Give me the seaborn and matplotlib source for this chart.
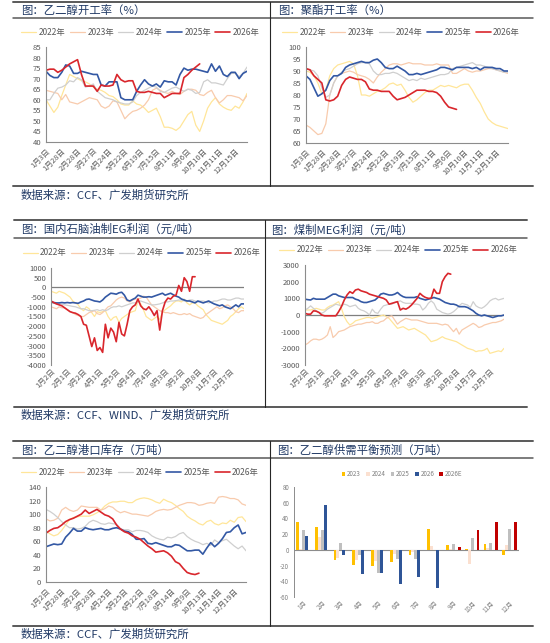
import numpy as np
import pandas as pd
import seaborn as sns
import matplotlib.pyplot as plt
from matplotlib.lines import Line2D

# ---- 乙二醇开工率 (%), weekly
eg_labels = ["1月3日", "1月28日", "2月28日", "3月27日", "4月24日", "5月22日", "6月19日",
             "7月15日", "8月11日", "9月6日", "10月10日", "11月11日", "12月15日"]
eg_2022 = [60, 57, 54, 56.5, 62, 67, 72, 71, 70, 69, 68.5, 67.5, 66, 65, 64.5, 63.5, 62, 61.5, 60, 58,
           57.5, 57.5, 59.5, 58, 57.5, 56, 54, 55, 56, 52, 47, 47, 46.5, 45.5, 47, 50, 53, 54.5, 48, 45,
           50, 56, 59, 61, 58, 56.5, 55.5, 55, 57, 56, 59, 63]
eg_2023 = [64.5, 64, 63.5, 63, 60, 62.5, 59, 58.5, 58, 59, 60, 61, 60.5, 60, 57, 56, 57, 59.5, 59, 55,
           51, 53, 54.5, 55, 56, 57.5, 60, 64.5, 65.5, 64.5, 63.5, 63, 64, 63, 62.5, 64, 65, 65, 64.5, 62.5,
           62, 63.5, 64.5, 61, 58.5, 60, 62, 62, 61.5, 61, 59.5, 62]
eg_2024 = [60, 60, 63, 65.5, 66, 67, 69, 68.5, 70.5, 69.5, 66, 66.5, 67.5, 64, 62.5, 61, 60.5, 60, 59, 58.5,
           58, 58, 59, 62, 63.5, 64.5, 65.5, 66.5, 66, 64, 63.5, 64.5, 65.5, 66, 65, 64, 65, 64.5, 63, 63.5,
           68.5, 69.5, 68, 68, 67.5, 67, 70, 72.5, 72.5, 71, 72.5, 75.5]
eg_2025 = [73.5, 71.5, 70.5, 70.5, 73, 76.5, 76, 72.5, 72.5, 73.5, 73, 72.5, 72, 72, 67, 66.5, 68.5, 68.5, 68.5, 61,
           60, 60, 60, 64, 67, 69.5, 67.5, 66.5, 67.5, 66, 69, 68.5, 68.5, 67, 72, 75, 74, 74.5, 74.5, 74,
           73.5, 73, 77, 73.5, 76, 72, 71, 73, 73, 70, 72.5, 73.5]
eg_2026 = [74, 74.5, 74.5, 73, 74, 75.5, 77, 78, 79, 72, 66.5, 66.5, 66.5, 64, 67, 66.5, 66.5, 67, 72, 69.5,
           68.5, 69, 69, 64, 63.5, 63.5, 64, 63.5, 63, 63, 61, 62, 63, 63, 63, 70.5, 72, 74, 75.5, 77]

# ---- 聚酯开工率 (%), weekly
pe_2022 = [90, 89.5, 88, 85, 80.5, 82, 88, 91, 92.5, 93, 93.5, 94, 93, 88, 80, 80, 79.5, 80.5, 81.5, 82,
           83, 84.5, 85, 84, 84.5, 82, 79, 77, 78, 79.5, 81, 82, 82, 83, 84, 83.5, 84, 83.5, 83, 84,
           84.5, 84.5, 82, 79, 76.5, 73, 70, 68.5, 67.5, 67, 66.5, 66]
pe_2023 = [67.5, 66.5, 65, 63.5, 64, 68, 80, 85, 88, 89, 89.5, 90, 89.5, 88.5, 88, 87.5, 86.5, 85, 87.5, 89.5,
           91, 92.5, 93, 93, 92.5, 93, 93.5, 93, 93, 93, 92.5, 92.5, 92.5, 93, 92.5, 92.5, 92.5, 89, 89, 90,
           91, 90, 89.5, 90, 90, 90.5, 91, 91, 90.5, 90, 89.5, 89]
pe_2024 = [91, 90.5, 90, 88, 83, 79, 80, 85, 88, 89.5, 90.5, 91, 92, 93, 93.5, 93.5, 93, 90, 88.5, 88.5,
           89, 89, 89.5, 89, 88, 87, 86, 86.5, 86, 87, 86.5, 87, 87.5, 88, 88.5, 88.5, 89, 91, 91.5, 92,
           92.5, 93, 93.5, 92.5, 92.5, 92, 91.5, 91, 90.5, 90, 89.5, 89.5]
pe_2025 = [88, 86.5, 83, 79.5, 80.5, 82, 86, 88, 88, 89, 91.5, 92.5, 93, 93.5, 94, 93.5, 93.5, 94.5, 95, 93.5,
           91.5, 91, 91, 92, 91, 90, 88.5, 88.5, 89, 88.5, 89, 89.5, 90, 90.5, 91.5, 91.5, 91, 90.5, 91.5, 91.5,
           91.5, 91.5, 91, 91.5, 90.5, 91.5, 91.5, 91.5, 91, 91, 90, 90]
pe_2026 = [91, 90.5, 88, 86.5, 85, 78, 77.5, 78, 79.5, 84, 86.5, 87.5, 87, 86.5, 86.5, 85.5, 82.5, 82, 82, 81.5,
           81.5, 81.5, 79.5, 78, 78.5, 79, 80, 81, 82, 82, 82, 81.5, 81.5, 81, 79.5, 77, 75, 74.5, 74]

# ---- 国内石脑油制EG利润 (元/吨)
np_labels = ["1月2日", "2月1日", "3月2日", "4月1日", "5月5日", "6月4日",
             "7月4日", "8月3日", "9月2日", "10月8日", "11月7日", "12月7日"]
np_2022 = [-200, -250, -300, -200, -250, -300, -400, -500, -700, -800, -900, -1100, -1200, -1000, -1100, -1300,
           -1500, -1250, -1300, -1250, -1200, -1500, -1700, -1550, -1500, -1800, -1600, -1500, -1400, -1300,
           -1250, -1200, -700, -850, -1150, -1500, -1600, -1700, -1600, -1500, -1650, -1300, -1150, -1050,
           -950, -800, -700, -700, -750, -600, -800, -900, -800, -800, -950, -1050, -1150, -1400, -1550,
           -1700, -1750, -1800, -1850, -1900, -1800, -1700, -1500, -1400, -1250, -1100, -1000, -1100]
np_2023 = [-1000, -1050, -1100, -1000, -1050, -1050, -1150, -1250, -1300, -1400, -1450, -1500, -1500, -1400,
           -1300, -1250, -1200, -1350, -1400, -1300, -1150, -1000, -950, -800, -650, -550, -500, -550, -700,
           -750, -650, -600, -600, -550, -450, -500, -700, -900, -1000, -1100, -1200, -1250, -1300, -1300,
           -1350, -1300, -1350, -1400, -1400, -1350, -1400, -1350, -1450, -1500, -1550, -1600, -1550, -1400,
           -1300, -1200, -1100, -1000, -1100, -1050, -950, -900, -1000, -1100, -1250, -1300, -1200, -1200]
np_2024 = [-800, -820, -850, -850, -880, -900, -920, -950, -980, -1000, -1050, -1100, -1100, -1150, -1200,
           -1200, -1180, -1150, -1200, -1150, -1200, -1150, -1050, -1000, -1000, -950, -1000, -950, -900,
           -850, -800, -800, -750, -700, -750, -800, -850, -900, -900, -880, -850, -800, -750, -750, -700,
           -700, -680, -650, -650, -700, -700, -650, -650, -700, -750, -700, -700, -750, -800, -750, -700,
           -700, -650, -600, -600, -650, -650, -600, -550, -550, -600, -600]
np_2025 = [-750, -780, -800, -800, -780, -800, -780, -800, -780, -800, -820, -750, -700, -620, -600, -650,
           -700, -720, -750, -650, -500, -400, -300, -320, -350, -280, -250, -400, -650, -700, -620, -550,
           -400, -450, -500, -500, -480, -500, -450, -400, -350, -300, -400, -350, -300, -380, -450, -500,
           -600, -650, -700, -700, -750, -800, -700, -750, -800, -750, -700, -780, -850, -900, -950, -900,
           -1000, -1050, -1100, -1000, -900, -1000, -850, -850]
np_2026 = [-700, -780, -850, -900, -950, -1050, -1150, -1250, -1300, -1330, -1400, -1500, -1900, -1950,
           -2500, -3050, -2600, -3250, -3100, -3350, -1900, -2600, -2100, -2300, -2800, -1800, -2400, -2500,
           -1900, -1200, -1000, -900, -600, -950, -1100, -1150, -1000, -1200, -1450, -1200, -2200, -1200,
           -750, -550, -600, -450, -400, 100, -200, 500, 300, -200, 550, 550]

# ---- 煤制MEG利润 (元/吨)
cm_2022 = [300, 300, 300, 350, 400, 350, 300, 300, 450, 550, 600, 700, 800, 400, -100, -400, -600, -500,
           -350, -300, -250, -200, -150, -150, -200, -150, -100, -50, 0, -100, -200, -400, -600, -800, -750,
           -700, -800, -900, -850, -800, -900, -1000, -1100, -1200, -1400, -1600, -1550, -1500, -1400, -1300,
           -1400, -1450, -1500, -1550, -1600, -1700, -1800, -1900, -2000, -2050, -2100, -2200, -2150, -2150,
           -2100, -2000, -2300, -2250, -2200, -2150, -2200, -2000]
cm_2023 = [-1800, -1700, -1550, -1450, -1450, -1500, -1450, -1350, -1200, -700, -1350, -1200, -1000, -950,
           -900, -800, -700, -650, -600, -550, -550, -500, -450, -450, -400, -500, -500, -400, -350, -200,
           -100, -50, -300, -550, -400, -300, -200, -250, -300, -300, -300, -350, -400, -450, -500, -500,
           -500, -500, -550, -600, -550, -600, -800, -1000, -800, -1150, -900, -800, -700, -600, -500, -600,
           -750, -700, -600, -550, -500, -450, -450, -400, -350, -250]
cm_2024 = [300, 400, 550, 400, 250, 150, 100, 200, 350, 450, 550, 650, 600, 550, 650, 600, 500, 550, 600,
           400, 300, 250, 150, 0, 350, 150, 100, 350, 550, 600, 650, 650, 750, 800, 850, 750, 700, 700, 700,
           650, 650, 600, 300, 450, 700, 850, 700, 350, 250, 150, 100, 50, 100, 200, 350, 550, 700, 650, 600,
           450, 800, 550, 450, 400, 500, 650, 850, 950, 1000, 900, 950, 1000]
cm_2025 = [950, 920, 900, 1000, 950, 950, 950, 950, 1050, 1150, 1250, 1250, 1150, 1100, 1050, 1050, 1050,
           1050, 950, 900, 800, 750, 750, 800, 850, 900, 1050, 1250, 1300, 1250, 1200, 1200, 1250, 1350, 1200,
           1100, 1050, 1050, 1050, 1050, 1100, 1000, 950, 900, 950, 1000, 1050, 1000, 950, 850, 750, 700, 650,
           650, 600, 500, 500, 500, 450, 350, 250, 100, 0, -50, 0, -50, -100, -150, -100, -50, -50, 0]
cm_2026 = [100, 50, 50, 250, 230, 150, 0, -50, -50, -50, -50, -50, 200, 500, 900, 1200, 1400, 1300, 1500,
           1550, 1450, 1400, 1350, 1250, 1200, 1150, 1100, 1050, 1000, 900, 650, 700, 750, 800, 300, 400, 350,
           450, 600, 800, 1000, 1300, 1150, 1050, 1000, 1000, 1550, 1300, 1300, 2000, 2300, 2500, 2450]

# ---- 乙二醇港口库存 (万吨), weekly
inv_labels = ["1月2日", "1月28日", "3月2日", "3月28日", "4月25日", "5月25日", "6月22日",
              "7月18日", "8月14日", "9月9日", "10月13日", "11月14日", "12月19日"]
inv_2022 = [75, 71, 68, 70, 76, 84, 92, 95, 96, 97, 97, 97, 99, 102, 106, 112, 116, 118, 118, 119,
            119, 117, 117, 121, 123, 124, 123, 121, 118, 116, 122, 119, 117, 113, 108, 104, 97, 93, 90, 86,
            84, 89, 91, 86, 84, 87, 86, 91, 88, 95, 96, 89]
inv_2023 = [93, 90, 91, 94, 106, 110, 106, 104, 106, 112, 111, 110, 110, 110, 106, 108, 112, 110, 105, 102,
            104, 102, 100, 100, 99, 98, 97, 100, 104, 106, 107, 106, 107, 110, 113, 115, 117, 117, 116, 113,
            114, 116, 117, 116, 125, 126, 125, 123, 123, 121, 115, 113]
inv_2024 = [107, 104, 100, 95, 89, 84, 80, 80, 78, 79, 82, 88, 91, 89, 86, 85, 87, 86, 85, 78,
            77, 77, 74, 76, 76, 75, 73, 68, 65, 63, 62, 66, 65, 67, 71, 73, 67, 63, 60, 58,
            55, 57, 54, 62, 58, 61, 63, 58, 53, 49, 53, 46]
inv_2025 = [52, 54, 56, 55, 56, 66, 72, 79, 75, 75, 80, 78, 77, 78, 79, 77, 77, 79, 80, 78,
            75, 74, 70, 63, 63, 64, 57, 56, 58, 56, 54, 52, 52, 55, 54, 50, 46, 46, 47, 47,
            41, 50, 58, 52, 57, 64, 73, 74, 80, 84, 71, 73]
inv_2026 = [72, 76, 79, 80, 84, 89, 92, 94, 97, 100, 106, 101, 104, 107, 103, 99, 97, 93, 84, 78,
            74, 72, 68, 66, 63, 58, 53, 49, 44, 45, 46, 43, 38, 30, 27, 20, 14, 12, 11, 13]

# ---- 乙二醇供需平衡预测 (万吨)
months = ["1月", "2月", "3月", "4月", "5月", "6月", "7月", "8月", "9月", "10月", "11月", "12月"]
bal_2023 = [36, 28.5, -13.5, -19, -20.5, -15, -7, 26.5, 6, 1, 7.5, -6]
bal_2024 = [0.5, 16, -10, -13.5, -14, -5, -3, 5, 1, -18, 2, 6.5]
bal_2025 = [25, 25, 8.5, -6, -29.5, -12, -11, 0, 7, 15, 8.5, 26]
bal_2026 = [18, 57, -7, -31, -30, -44, -35, -48, np.nan, np.nan, np.nan, np.nan]
bal_2026e = [np.nan] * 8 + [4, 25, 35, 35]

years = ["2022年", "2023年", "2024年", "2025年", "2026年"]
line_colors = ["#FFE699", "#F8CBAD", "#CFCFCF", "#3358A4", "#D9262C"]
line_widths = [0.9, 0.9, 0.9, 1.2, 1.2]
bar_names = ["2023", "2024", "2025", "2026", "2026E"]
bar_colors = ["#FFC000", "#FBE0D0", "#BFBFBF", "#2F5597", "#C00000"]

NAVY = "#1F3864"
GREY = "#595959"
W, H = 550, 643

sns.set_style("white")
plt.rcParams["font.family"] = ["Noto Sans CJK SC", "DejaVu Sans"]
plt.rcParams["axes.unicode_minus"] = False

fig = plt.figure(figsize=(W / 100, H / 100), dpi=100)


def add_ax(x0, y0, x1, y1):
    return fig.add_axes([x0 / W, 1 - y1 / H, (x1 - x0) / W, (y1 - y0) / H])


def hline(x0, x1, y, lw):
    fig.add_artist(Line2D([x0 / W, x1 / W], [1 - y / H] * 2, color=GREY, lw=lw))


def vline(x, y0, y1):
    fig.add_artist(Line2D([x / W] * 2, [1 - y0 / H, 1 - y1 / H], color="#262626", lw=0.8))


def row_frame(x0, xm, x1, top, under, bottom):
    hline(x0, x1, top, 1.4)
    hline(x0, x1, under, 1.1)
    hline(x0, x1, bottom, 1.4)
    vline(xm, top, bottom)


def label(x, y, s):
    fig.text(x / W, 1 - y / H, s, color=NAVY, fontsize=8.2, va="center", ha="left")


def line_panel(ax, series, tick_labels, step, yticks, zero=False, leg_y=0.16):
    n = max(len(v) for v in series)
    for vals, name, c, lw in zip(series, years, line_colors, line_widths):
        sns.lineplot(x=np.arange(len(vals)), y=vals, ax=ax, color=c, lw=lw, label=name)
    ax.set_xlim(0, n - 1)
    ax.set_ylim(yticks[0], yticks[-1])
    ax.set_yticks(yticks)
    ax.set_xticks(np.arange(0, step * len(tick_labels), step))
    ax.set_xticklabels(tick_labels, rotation=45, ha="right", rotation_mode="anchor")
    ax.tick_params(axis="both", labelsize=5.5, labelcolor=GREY, length=2, width=0.6,
                   color="#8C8C8C", pad=1.5)
    for s in ["top", "right"]:
        ax.spines[s].set_visible(False)
    ax.spines["left"].set_color("#8C8C8C")
    ax.spines["left"].set_linewidth(0.8)
    if zero:
        ax.spines["bottom"].set_visible(False)
        ax.axhline(0, color="#7F7F7F", lw=0.9, zorder=1)
        ax.tick_params(axis="x", length=0)
    else:
        ax.spines["bottom"].set_color("#8C8C8C")
        ax.spines["bottom"].set_linewidth(0.8)
    ax.set_xlabel("")
    ax.set_ylabel("")
    ax.legend(loc="center", bbox_to_anchor=(0.47, 1 + leg_y), ncol=5, frameon=False, fontsize=6,
              handlelength=1.8, handletextpad=0.3, columnspacing=0.5, labelcolor=GREY,
              borderaxespad=0)


# ---- frames and texts
row_frame(13, 270, 533, 2, 18, 186)
row_frame(14, 265, 527, 220, 238, 407)
row_frame(13, 270, 533, 441, 458, 626)

label(21, 11, "图：乙二醇开工率（%）")
label(278, 10, "图：聚酯开工率（%）")
label(21, 229, "图：国内石脑油制EG利润（元/吨）")
label(271, 230, "图：煤制MEG利润（元/吨）")
label(21, 450, "图：乙二醇港口库存（万吨）")
label(277, 450, "图：乙二醇供需平衡预测（万吨）")
label(21, 195, "数据来源：CCF、广发期货研究所")
label(21, 415, "数据来源：CCF、WIND、广发期货研究所")
label(21, 634, "数据来源：CCF、广发期货研究所")

# ---- line panels
ax1 = add_ax(46, 47, 247, 142)
line_panel(ax1, [eg_2022, eg_2023, eg_2024, eg_2025, eg_2026], eg_labels, 4,
           list(range(40, 86, 5)), leg_y=15 / 95)

ax2 = add_ax(306, 47, 508, 143)
line_panel(ax2, [pe_2022, pe_2023, pe_2024, pe_2025, pe_2026], eg_labels, 4,
           list(range(60, 101, 5)), leg_y=15 / 96)

ax3 = add_ax(51, 268, 244, 365)
line_panel(ax3, [np_2022, np_2023, np_2024, np_2025, np_2026], np_labels, 6,
           list(range(-4000, 1001, 500)), zero=True, leg_y=15 / 97)

ax4 = add_ax(305, 265, 504, 365)
line_panel(ax4, [cm_2022, cm_2023, cm_2024, cm_2025, cm_2026], np_labels, 6,
           list(range(-3000, 3001, 1000)), zero=True, leg_y=15 / 100)

ax5 = add_ax(46, 487, 246, 582)
line_panel(ax5, [inv_2022, inv_2023, inv_2024, inv_2025, inv_2026], inv_labels, 4,
           list(range(0, 141, 20)), leg_y=15 / 95)

# ---- bar panel
bal = pd.DataFrame({
    "月": months * 5,
    "系列": [b for b in bar_names for _ in months],
    "值": bal_2023 + bal_2024 + bal_2025 + bal_2026 + bal_2026e,
})
ax6 = add_ax(294, 487, 519, 597)
sns.barplot(data=bal, x="月", y="值", hue="系列", hue_order=bar_names, palette=bar_colors,
            saturation=1, gap=0, width=0.78, errorbar=None, linewidth=0, ax=ax6)
ax6.set_xlim(-0.5, 11.5)
ax6.set_ylim(-60, 80)
ax6.set_yticks(range(-60, 81, 20))
ax6.axhline(0, color="#8C8C8C", lw=0.8, zorder=0)
ax6.set_xlabel("")
ax6.set_ylabel("")
for s in ["top", "right", "bottom"]:
    ax6.spines[s].set_visible(False)
ax6.spines["left"].set_color("#8C8C8C")
ax6.spines["left"].set_linewidth(0.7)
ax6.tick_params(axis="both", labelsize=4.5, labelcolor="#7F7F7F", length=2, width=0.5,
                color="#8C8C8C", pad=1.5)
ax6.tick_params(axis="x", length=0)
plt.setp(ax6.get_xticklabels(), rotation=45, ha="right", rotation_mode="anchor")
ax6.legend(loc="center", bbox_to_anchor=(0.48, 1 + 13 / 110), ncol=5, frameon=False, fontsize=4.5,
           handlelength=0.6, handleheight=0.6, handletextpad=0.3, columnspacing=0.8,
           labelcolor="#7F7F7F", borderaxespad=0)

fig.savefig("out.png", dpi=100)
